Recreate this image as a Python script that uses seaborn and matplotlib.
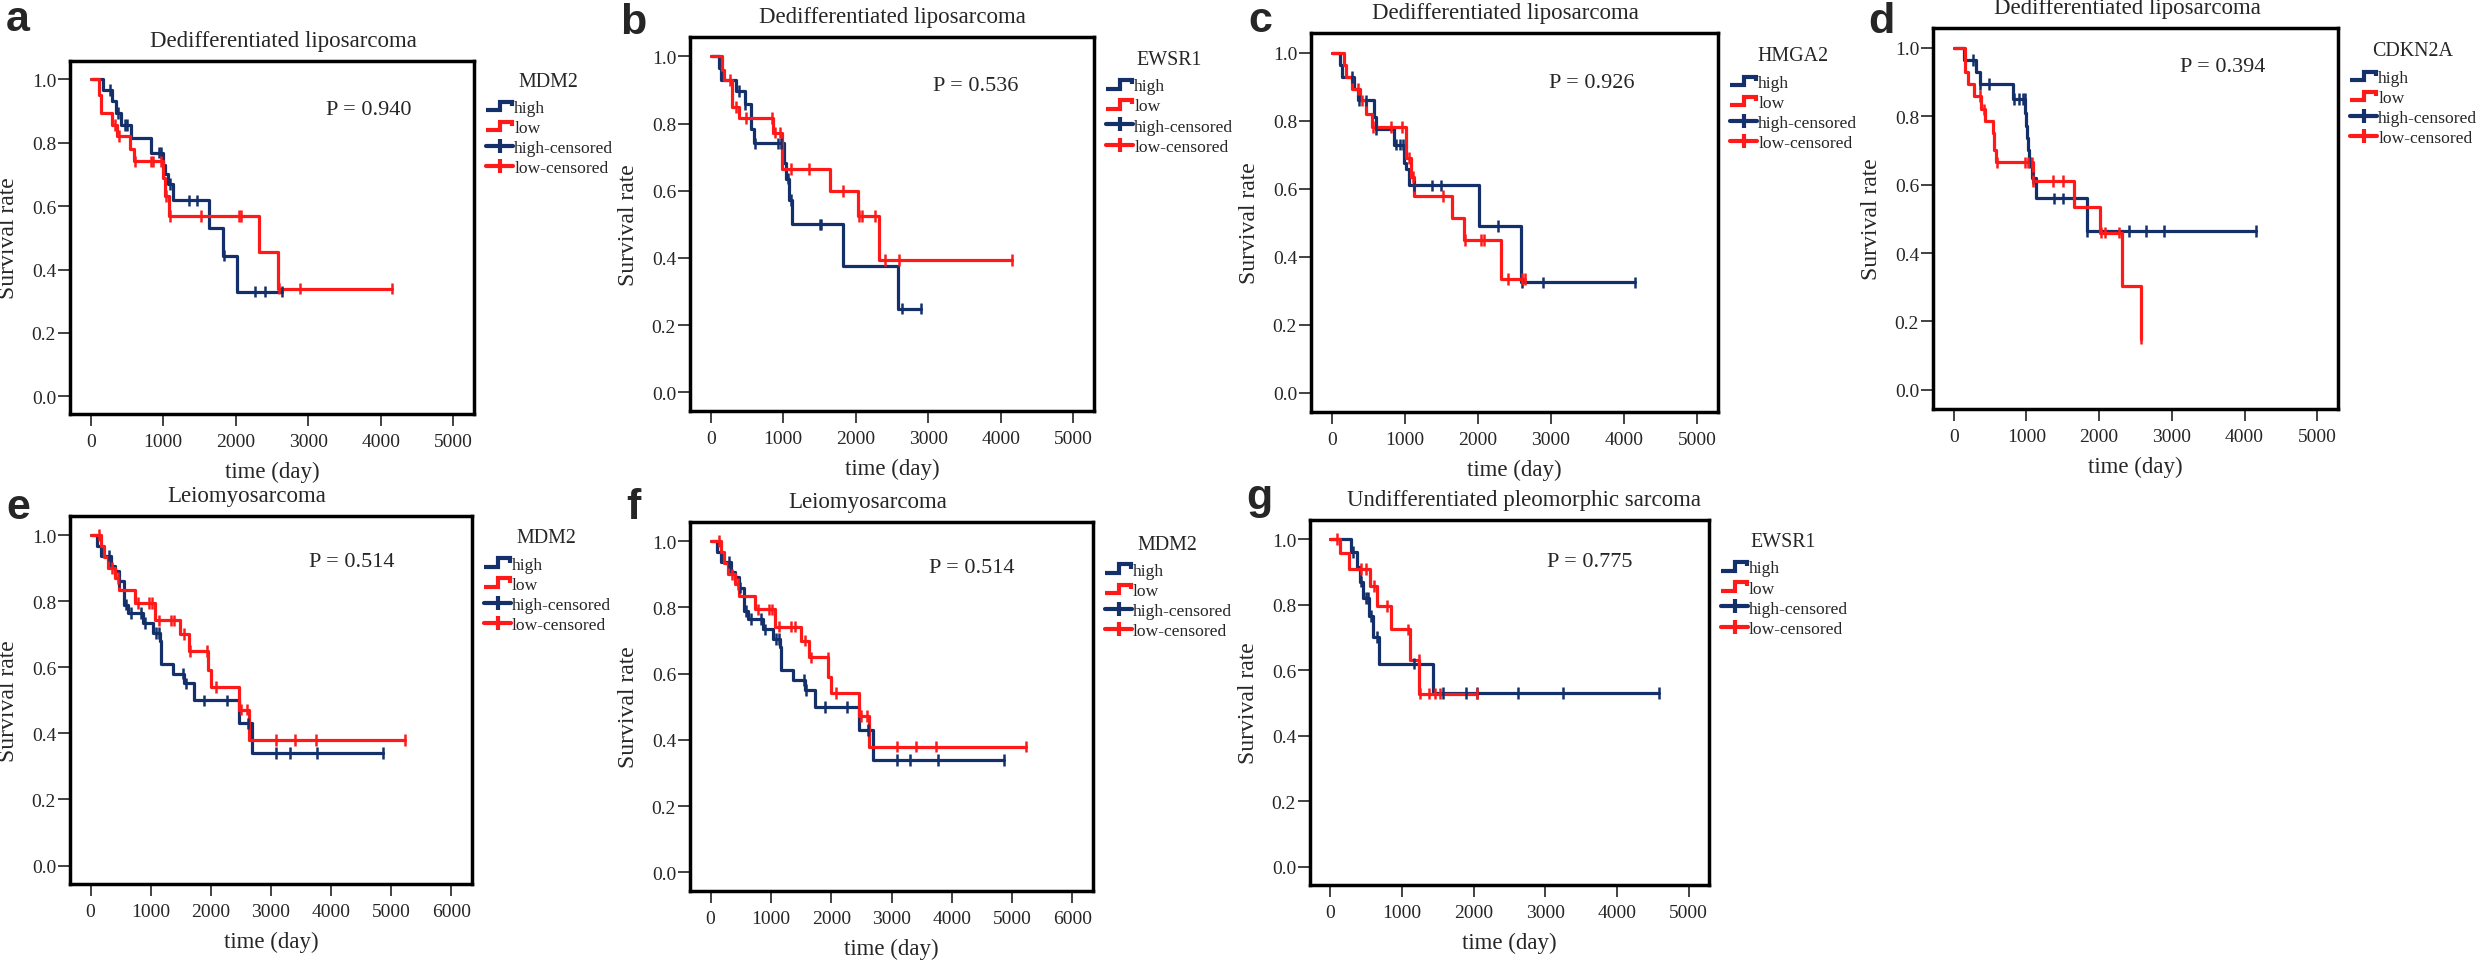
import numpy as np
import pandas as pd
import seaborn as sns
import matplotlib.pyplot as plt
from matplotlib.lines import Line2D
from matplotlib.legend_handler import HandlerBase
from matplotlib.ticker import FormatStrFormatter

# ---- panel text ----
panel_letters = ["a", "b", "c", "d", "e", "f", "g"]
panel_titles = ["Dedifferentiated liposarcoma", "Dedifferentiated liposarcoma",
                "Dedifferentiated liposarcoma", "Dedifferentiated liposarcoma",
                "Leiomyosarcoma", "Leiomyosarcoma",
                "Undifferentiated pleomorphic sarcoma"]
genes = ["MDM2", "EWSR1", "HMGA2", "CDKN2A", "MDM2", "MDM2", "EWSR1"]
p_values = ["0.940", "0.536", "0.926", "0.394", "0.514", "0.514", "0.775"]
x_max = [5000, 5000, 5000, 5000, 6000, 6000, 5000]

# ---- survival curves: step times (day), survival after step, censored times ----
a_high_t = [0, 175, 290, 345, 415, 550, 835, 1000, 1030, 1060, 1130, 1625, 1830, 2020]
a_high_s = [1.0, 0.966, 0.931, 0.894, 0.857, 0.815, 0.769, 0.73, 0.70, 0.67, 0.618, 0.530, 0.444, 0.330]
a_high_c = [262, 380, 480, 500, 940, 975, 1090, 1350, 1470, 1840, 2265, 2400, 2640]
a_low_t = [0, 110, 140, 290, 360, 545, 600, 1000, 1030, 1080, 2320, 2580]
a_low_s = [1.0, 0.95, 0.894, 0.857, 0.821, 0.781, 0.741, 0.688, 0.631, 0.568, 0.454, 0.340]
a_low_c = [335, 385, 610, 825, 865, 975, 1040, 1090, 1515, 2040, 2075, 2595, 2890, 4155]

b_high_t = [0, 115, 140, 350, 475, 550, 600, 1015, 1040, 1085, 1125, 1830, 2580]
b_high_s = [1.0, 0.966, 0.929, 0.897, 0.859, 0.783, 0.741, 0.683, 0.636, 0.572, 0.500, 0.375, 0.249]
b_high_c = [385, 480, 610, 930, 975, 1060, 1105, 1505, 1515, 2635, 2905]
b_low_t = [0, 160, 180, 290, 385, 865, 985, 1640, 2030, 2325]
b_low_s = [1.0, 0.959, 0.929, 0.850, 0.817, 0.773, 0.665, 0.600, 0.524, 0.393]
b_low_c = [265, 350, 485, 840, 885, 960, 1105, 1355, 1830, 2050, 2085, 2265, 2400, 2590, 4155]

c_high_t = [0, 115, 140, 300, 355, 575, 600, 845, 990, 1015, 1060, 2015, 2585]
c_high_s = [1.0, 0.965, 0.929, 0.894, 0.860, 0.811, 0.775, 0.730, 0.675, 0.659, 0.610, 0.490, 0.325]
c_high_c = [275, 370, 465, 610, 880, 935, 975, 1125, 1370, 1490, 2270, 2600, 2895, 4150]
c_low_t = [0, 160, 195, 275, 385, 465, 545, 1015, 1090, 1125, 1650, 1815, 2315]
c_low_s = [1.0, 0.965, 0.929, 0.894, 0.860, 0.820, 0.781, 0.690, 0.634, 0.578, 0.515, 0.450, 0.335]
c_low_c = [355, 410, 560, 815, 960, 1060, 1105, 1520, 1820, 2045, 2085, 2410, 2600, 2650]

d_high_t = [0, 135, 305, 360, 820, 985, 1000, 1010, 1025, 1040, 1080, 1125, 1830]
d_high_s = [1.0, 0.965, 0.930, 0.895, 0.850, 0.810, 0.770, 0.735, 0.700, 0.665, 0.620, 0.560, 0.465]
d_high_c = [270, 365, 480, 835, 900, 950, 975, 1045, 1085, 1380, 1505, 1835, 2410, 2640, 2890, 4155]
d_low_t = [0, 160, 190, 280, 370, 430, 540, 560, 585, 1090, 1650, 2015, 2315, 2575]
d_low_s = [1.0, 0.930, 0.895, 0.860, 0.820, 0.785, 0.750, 0.700, 0.665, 0.610, 0.535, 0.460, 0.305, 0.150]
d_low_c = [355, 415, 595, 985, 1025, 1070, 1095, 1370, 1505, 2030, 2085, 2275, 2580]

# leiomyosarcoma (panels e and f show the same curves)
e_high_t = [0, 100, 180, 340, 410, 475, 555, 620, 870, 1035, 1150, 1170, 1370, 1560, 1725, 2460, 2690]
e_high_s = [1.0, 0.968, 0.938, 0.908, 0.892, 0.860, 0.790, 0.765, 0.734, 0.704, 0.681, 0.611, 0.581,
            0.551, 0.500, 0.430, 0.340]
e_high_c = [310, 480, 590, 670, 835, 900, 1085, 1130, 1545, 1590, 1890, 2265, 2610, 3085, 3315, 3765, 4870]
e_low_t = [0, 180, 225, 290, 410, 475, 735, 1065, 1495, 1630, 1955, 2000, 2460, 2630]
e_low_s = [1.0, 0.968, 0.935, 0.900, 0.870, 0.835, 0.794, 0.742, 0.700, 0.649, 0.591, 0.541, 0.472, 0.380]
e_low_c = [145, 360, 460, 790, 965, 1020, 1130, 1330, 1395, 1560, 1660, 1940, 2085, 2500, 2600,
           3085, 3400, 3745, 5225]

g_high_t = [0, 285, 370, 415, 455, 540, 590, 685, 1430]
g_high_s = [1.0, 0.960, 0.915, 0.870, 0.820, 0.765, 0.700, 0.620, 0.530]
g_high_c = [315, 420, 495, 530, 560, 645, 1160, 1570, 1890, 2045, 2625, 3240, 4585]
g_low_t = [0, 130, 260, 555, 645, 850, 1115, 1240]
g_low_s = [1.0, 0.956, 0.909, 0.857, 0.795, 0.724, 0.632, 0.528]
g_low_c = [95, 425, 500, 615, 785, 1090, 1230, 1245, 1380, 1465, 1530, 2050]

panel_data = [
    (a_high_t, a_high_s, a_high_c, a_low_t, a_low_s, a_low_c),
    (b_high_t, b_high_s, b_high_c, b_low_t, b_low_s, b_low_c),
    (c_high_t, c_high_s, c_high_c, c_low_t, c_low_s, c_low_c),
    (d_high_t, d_high_s, d_high_c, d_low_t, d_low_s, d_low_c),
    (e_high_t, e_high_s, e_high_c, e_low_t, e_low_s, e_low_c),
    (e_high_t, e_high_s, e_high_c, e_low_t, e_low_s, e_low_c),
    (g_high_t, g_high_s, g_high_c, g_low_t, g_low_s, g_low_c),
]

# ---- layout (pixels in a 2481x962 canvas) ----
W, H = 2481, 962
boxes = [(70, 62, 474, 415), (690, 38, 1094, 412), (1311, 34, 1718, 413), (1933, 29, 2338, 410),
         (70, 517, 472, 885), (690, 523, 1093, 892), (1310, 521, 1709, 886)]
title_x = [0.529, 0.50, 0.478, 0.48, 0.44, 0.44, 0.536]
p_pos = [(0.74, 0.85), (0.707, 0.858), (0.69, 0.857), (0.716, 0.887),
         (0.70, 0.864), (0.70, 0.864), (0.70, 0.874)]
letter_pos = [(6, 31), (620, 34), (1248, 32), (1868, 33), (6, 519), (626, 519), (1246, 509)]

NAVY = "#13306b"
RED = "#ff1a1a"
palette = {"high": NAVY, "low": RED}


class StepHandler(HandlerBase):
    """legend key drawn as a little survival step"""
    def create_artists(self, legend, orig_handle, xdescent, ydescent, width, height, fontsize, trans):
        xs = np.array([0, 0.52, 0.52, 0.96, 0.96]) * width - xdescent
        ys = np.array([0.15, 0.15, 0.85, 0.85, 0.5]) * height - ydescent
        line = Line2D(xs, ys, color=orig_handle.get_color(), lw=orig_handle.get_linewidth(),
                      solid_joinstyle="miter", solid_capstyle="butt")
        line.set_transform(trans)
        return [line]


def build_frames(high_t, high_s, high_c, low_t, low_s, low_c):
    curves, marks = [], []
    for grp, t, s, c in [("high", high_t, high_s, high_c), ("low", low_t, low_s, low_c)]:
        end = max(c[-1], t[-1])
        curves.append(pd.DataFrame({"time": list(t) + [end], "surv": list(s) + [s[-1]], "group": grp}))
        idx = np.searchsorted(t, c, side="right") - 1
        marks.append(pd.DataFrame({"time": c, "surv": np.asarray(s)[idx], "group": grp}))
    return pd.concat(curves, ignore_index=True), pd.concat(marks, ignore_index=True)


sns.set_style("ticks")
plt.rcParams["font.family"] = ["Liberation Serif", "DejaVu Serif"]
plt.rcParams["mathtext.fontset"] = "stix"

fig = plt.figure(figsize=(W / 100, H / 100), dpi=100)

for i in range(7):
    l, t, r, b = boxes[i]
    ax = fig.add_axes([l / W, 1 - b / H, (r - l) / W, (b - t) / H])

    curves, marks = build_frames(*panel_data[i])
    for grp in ["high", "low"]:
        sns.lineplot(data=curves[curves.group == grp], x="time", y="surv", color=palette[grp],
                     drawstyle="steps-post", estimator=None, sort=False, lw=2.3, ax=ax, legend=False)
    sns.scatterplot(data=marks, x="time", y="surv", hue="group", palette=palette, marker="|",
                    s=70, linewidth=1.8, legend=False, ax=ax, zorder=3)

    xm = x_max[i]
    ax.set_xlim(-0.057 * xm, 1.057 * xm)
    ax.set_ylim(-0.056, 1.058)
    ax.set_xticks(range(0, xm + 1, 1000))
    ax.set_yticks(np.arange(0, 1.01, 0.2))
    ax.yaxis.set_major_formatter(FormatStrFormatter("%.1f"))
    for sp in ax.spines.values():
        sp.set_visible(True)
        sp.set_linewidth(2.5)
        sp.set_color("black")
    ax.tick_params(axis="both", length=8.5, width=1.2, color="#222222", labelsize=14)
    ax.tick_params(axis="x", pad=5)
    ax.tick_params(axis="y", pad=1.5)

    ax.set_xlabel("time (day)", fontsize=16.5, labelpad=8)
    ax.set_ylabel("Survival rate", fontsize=17, labelpad=9)
    ax.set_title(panel_titles[i], x=title_x[i], pad=11, fontsize=16.5)
    ax.text(p_pos[i][0], p_pos[i][1], "P = " + p_values[i], transform=ax.transAxes,
            ha="center", va="baseline", fontsize=16)

    # legend: gene name as heading, then the four keys
    ax.text(1.185, 0.928, genes[i], transform=ax.transAxes, ha="center", va="baseline", fontsize=14.4)
    h_high = Line2D([], [], color=NAVY, lw=3)
    h_low = Line2D([], [], color=RED, lw=3)
    h_high_c = Line2D([], [], color=NAVY, lw=3, marker="|", markersize=9.5, mew=3)
    h_low_c = Line2D([], [], color=RED, lw=3, marker="|", markersize=9.5, mew=3)
    ax.legend([h_high, h_low, h_high_c, h_low_c], ["high", "low", "high-censored", "low-censored"],
              handler_map={h_high: StepHandler(), h_low: StepHandler()},
              loc="upper left", bbox_to_anchor=(1.03, 0.89), frameon=False,
              borderpad=0, borderaxespad=0, handlelength=1.55, handletextpad=0.05,
              labelspacing=0.22, numpoints=1, fontsize=12.6)

    lx, ly = letter_pos[i]
    fig.text(lx / W, 1 - ly / H, panel_letters[i], fontsize=31, fontweight="bold",
             family="Liberation Sans", ha="left", va="baseline")

fig.savefig("out.png", dpi=100)
